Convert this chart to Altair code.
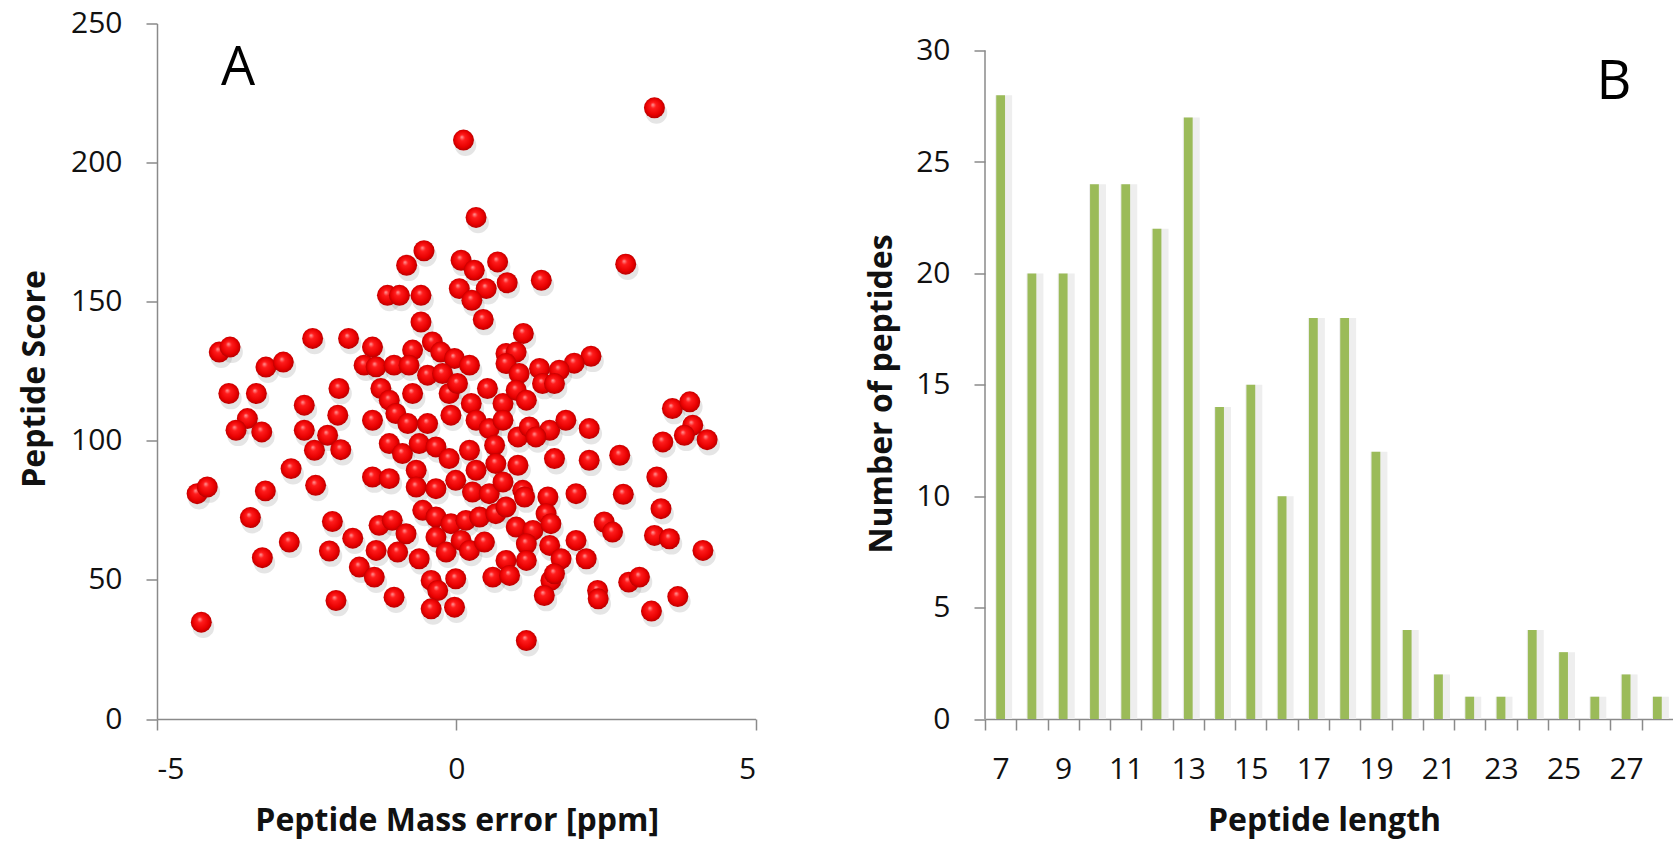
import altair as alt
import pandas as pd

# ---------------- Panel A data (peptide mass error vs score) ----------------
mass_error = [
    3.31, 2.83, 2.25, 1.97,
    0.12, 0.33, -0.54, -0.83, 0.08, 0.69, 0.30, 0.85, 1.42, 0.05, 0.50, 0.26,
    -1.15, -0.95, -0.59, -0.59, 0.45, 1.12, -1.40, -0.73, -0.40, -0.26, -0.03, 0.83, 1.00,
    -3.96, -3.78, -3.18, -2.89, -2.40, -1.80, -1.54,
    -3.80, -3.34, -1.96, -2.54, -1.98, -3.49, -3.68, -3.25, -2.54, -2.15, -2.37, -1.93,
    -2.76, -2.35, -4.33, -4.16, -3.19, -3.44, -2.07, -1.73, -2.79, -2.12, -3.24, -1.62,
    -2.01, -4.26,
    3.61, 3.90, 3.95, 3.81, 4.19, 3.45, 2.22, 2.22, 2.73, 3.35, 2.79, 3.42, 2.47, 2.61,
    3.31, 3.56, 2.17, 4.12, 2.36, 2.37, 2.88, 3.06, 3.70, 3.26,
    -1.34, -1.04, -0.79, -0.48, -0.23, 0.22, 0.83, 1.05, 1.39, 1.72, 1.44,
    -1.26, -1.12, -0.73, -0.12, 0.02, 0.25, 0.52, 0.78, 1.00, 1.17, 1.64,
    -1.40, -1.01, -0.81, -0.48, -0.09, 0.33, 0.55, 0.78, 1.03, 1.22, 1.56, 1.83,
    -1.12, -0.90, -0.62, -0.34, -0.12, 0.22, 0.33, 0.64, 0.66, 1.03, 1.33, 1.64,
    -1.40, -1.12, -0.67, -0.67, -0.34, -0.01, 0.27, 0.55, 0.78, 1.11, 1.14, 1.53, 2.00,
    -1.29, -1.07, -0.84, -0.56, -0.34, -0.09, 0.16, 0.39, 0.66, 0.83, 1.00, 1.28, 1.50, 1.58,
    -1.34, -0.98, -0.62, -0.34, -0.17, 0.08, 0.22, 0.47, 0.83, 1.17, 1.17, 1.56, 1.75, 2.00,
    -1.37, -1.04, -0.42, -0.31, -0.01, 0.61, 0.89, 1.58, 1.47, 1.64,
    -0.42, -0.03, 1.17,
]
score = [
    219.7, 163.5, 130.4, 127.9,
    208.1, 180.3, 168.3, 163.1, 164.9, 164.3, 161.3, 156.8, 157.7, 154.7, 154.7, 150.5,
    152.3, 152.3, 152.3, 142.7, 143.6, 138.6, 133.7, 132.6, 135.5, 131.9, 129.6, 131.4, 131.9,
    131.9, 133.7, 126.5, 128.3, 136.8, 136.8, 127.2,
    117.0, 117.0, 118.8, 112.8, 109.2, 108.0, 103.8, 103.2, 103.8, 102.0, 96.6, 96.8,
    90.0, 84.0, 81.0, 83.4, 82.0, 72.4, 71.0, 65.0, 63.6, 60.4, 58.0, 54.6,
    42.6, 34.8,
    111.6, 114.0, 105.6, 102.0, 100.4, 99.6, 104.4, 93.0, 94.8, 87.0, 80.8, 75.6, 70.8, 67.2,
    66.0, 64.8, 57.6, 60.6, 46.2, 43.2, 49.2, 51.0, 44.0, 38.8,
    126.6, 127.2, 127.2, 123.6, 124.2, 127.2, 127.8, 124.2, 126.0, 125.4, 120.6,
    118.8, 114.6, 117.0, 117.0, 120.6, 113.4, 118.8, 113.4, 118.2, 114.6, 120.6,
    107.4, 109.8, 106.2, 106.2, 109.2, 107.4, 104.4, 107.4, 101.4, 105.0, 103.8, 107.4,
    99.0, 95.4, 99.0, 97.8, 93.6, 96.6, 89.4, 98.4, 91.8, 91.2, 101.4, 93.6,
    87.0, 86.4, 89.4, 83.4, 82.8, 85.8, 81.6, 81.0, 85.2, 82.2, 79.8, 79.8, 81.0,
    69.6, 71.4, 66.6, 75.0, 72.6, 70.2, 71.4, 72.6, 73.8, 76.2, 69.0, 67.8, 73.8, 70.2,
    60.6, 60.0, 57.6, 65.4, 60.0, 64.2, 60.6, 63.6, 57.0, 63.0, 57.0, 62.4, 57.6, 64.2,
    51.0, 43.8, 49.8, 46.2, 50.4, 51.0, 51.6, 49.8, 44.4, 52.2,
    39.6, 40.2, 28.2,
]
score_ticks = [0, 50, 100, 150, 200, 250]
mass_ticks = [-5, 0, 5]

# ---------------- Panel B data (peptide length histogram) ----------------
lengths = list(range(7, 29))
counts = [28, 20, 20, 24, 24, 22, 27, 14, 15, 10, 18, 18, 12, 4, 2, 1, 1, 4, 3, 1, 2, 1]
count_ticks = [0, 5, 10, 15, 20, 25, 30]

scatter_df = pd.DataFrame({"mass_error": mass_error, "score": score})
bar_df = pd.DataFrame({"length": lengths, "count": counts})

FONT = "Open Sans"
AXIS_GRAY = "#8a8a8a"

axis_common = dict(
    grid=False,
    domainColor=AXIS_GRAY,
    domainWidth=1.5,
    tickColor=AXIS_GRAY,
    tickWidth=1.5,
    tickSize=11,
    labelFont=FONT,
    labelFontSize=30,
    labelColor="#111111",
    labelPadding=24,
    titleFont=FONT,
    titleFontSize=32,
    titleFontWeight="bold",
    titleColor="#111111",
    titleBaseline="alphabetic",
)

# ---------------- Panel A ----------------
SW, SH = 598.6, 695.5

xs = alt.X(
    "mass_error:Q",
    scale=alt.Scale(domain=[-5, 5], nice=False, zero=False),
    axis=alt.Axis(values=mass_ticks, title="Peptide Mass error [ppm]",
                  labelExpr="datum.value < 0 ? '-' + abs(datum.value) : '' + datum.value",
                  titleX=299.7, titleY=111, **axis_common),
)
ys = alt.Y(
    "score:Q",
    scale=alt.Scale(domain=[0, 250], nice=False),
    axis=alt.Axis(values=score_ticks, title="Peptide Score",
                  titleX=-113, titleY=355, **axis_common),
)

sphere = {
    "gradient": "radial",
    "x1": 0.42, "y1": 0.35, "r1": 0.0,
    "x2": 0.5, "y2": 0.5, "r2": 0.55,
    "stops": [
        {"offset": 0.0, "color": "#ff9c9c"},
        {"offset": 0.25, "color": "#ff1c1c"},
        {"offset": 0.7, "color": "#e80000"},
        {"offset": 1.0, "color": "#a80000"},
    ],
}

shadow = alt.Chart(scatter_df).mark_circle(
    size=470, color="#6e6e6e", opacity=0.18, xOffset=2, yOffset=5
).encode(x=xs, y=ys)

points = alt.Chart(scatter_df).mark_circle(
    size=440, color=sphere, opacity=1
).encode(x=xs, y=ys)

label_a = alt.Chart(pd.DataFrame({"t": ["A"]})).mark_text(
    font=FONT, fontSize=54, color="#000000", align="center", baseline="alphabetic"
).encode(text="t:N", x=alt.value(81), y=alt.value(61.5))

panel_a = alt.layer(shadow, points, label_a).properties(width=SW, height=SH)

# ---------------- Panel B ----------------
BW = 688
step = BW / len(lengths)
frac = 8.8 / step
ymax = 30 * SH / 668.4

xb = alt.X(
    "length:O",
    scale=alt.Scale(paddingInner=1 - frac, paddingOuter=(1 - frac) / 2),
    axis=alt.Axis(
        title="Peptide length", titleX=339, titleY=111,
        labelAngle=0,
        labelExpr="datum.value % 2 == 1 ? datum.label : ''",
        tickOffset=-step / 2, labelOffset=step / 2,
        **axis_common,
    ),
)
yb = alt.Y(
    "count:Q",
    scale=alt.Scale(domain=[0, ymax], nice=False),
    axis=alt.Axis(values=count_ticks, title="Number of peptides",
                  titleX=-94, titleY=370, domain=False, **axis_common),
)

bar_shadow = alt.Chart(bar_df).mark_bar(
    width=17, xOffset=3, color="#eeeeee"
).encode(x=xb, y=yb)

bars = alt.Chart(bar_df).mark_bar(color="#9bbb59").encode(x=xb, y=yb)

y_line = alt.Chart(pd.DataFrame({"lo": [0], "hi": [30]})).mark_rule(
    color=AXIS_GRAY, strokeWidth=1.5
).encode(x=alt.value(0), y=alt.Y("lo:Q"), y2="hi:Q")

label_b = alt.Chart(pd.DataFrame({"t": ["B"]})).mark_text(
    font=FONT, fontSize=54, color="#000000", align="center", baseline="alphabetic"
).encode(text="t:N", x=alt.value(629), y=alt.value(75))

panel_b = alt.layer(bar_shadow, bars, y_line, label_b).properties(width=BW, height=SH)

chart = (
    alt.hconcat(panel_a, panel_b, spacing=108)
    .properties(padding={"left": 18, "top": 8.5, "right": 0, "bottom": 4},
                background="white")
    .configure_view(stroke=None)
)

chart.save("out.html", embed_options={"renderer": "svg", "actions": False})
